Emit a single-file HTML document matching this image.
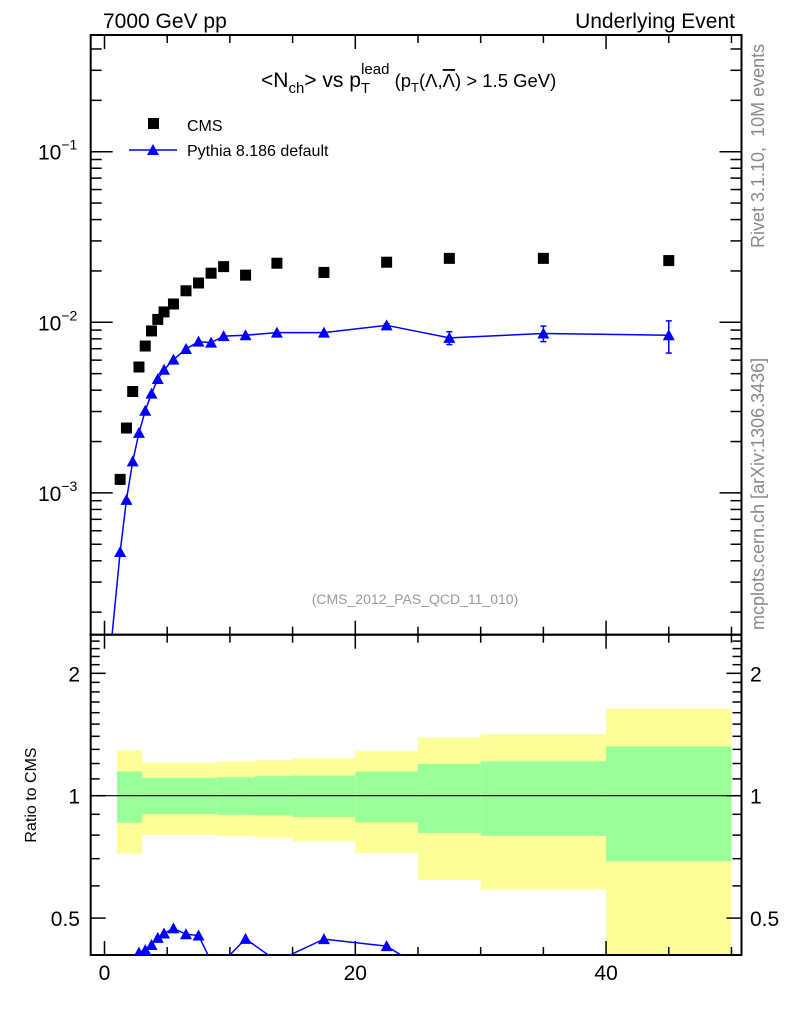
<!DOCTYPE html>
<html><head><meta charset="utf-8"><style>
body{margin:0;background:#fff;}
svg{display:block;font-family:"Liberation Sans",sans-serif;}
</style></head><body>
<svg id="c" width="786" height="1024" viewBox="0 0 786 1024" xmlns="http://www.w3.org/2000/svg"></svg>
<script>
const cmsX=[1.25,1.75,2.25,2.75,3.25,3.75,4.25,4.75,5.5,6.5,7.5,8.5,9.5,11.25,13.75,17.5,22.5,27.5,35,45];
const cmsY=[1.2e-3,2.4e-3,3.93e-3,5.47e-3,7.26e-3,8.9e-3,1.04e-2,1.15e-2,1.28e-2,1.53e-2,1.70e-2,1.94e-2,2.12e-2,1.89e-2,2.22e-2,1.96e-2,2.25e-2,2.37e-2,2.37e-2,2.3e-2];
const pyX=[0.25,1.25,1.75,2.25,2.75,3.25,3.75,4.25,4.75,5.5,6.5,7.5,8.5,9.5,11.25,13.75,17.5,22.5,27.5,35,45];
const pyY=[8e-5,4.5e-4,9.1e-4,1.53e-3,2.25e-3,3.03e-3,3.82e-3,4.65e-3,5.27e-3,6.04e-3,6.98e-3,7.7e-3,7.6e-3,8.3e-3,8.4e-3,8.7e-3,8.7e-3,9.6e-3,8.1e-3,8.6e-3,8.4e-3];
const pyErr=[0,0,0,0,0,0,0,0,0,0,0,0,0,0,0,0,0,0.2e-3,0.7e-3,0.9e-3,1.8e-3];
const bandEdges=[1,3,9,12,15,20,25,30,40,50];
const yelHi=[1.294,1.206,1.215,1.222,1.236,1.287,1.392,1.419,1.636];
const grnHi=[1.147,1.107,1.11,1.117,1.121,1.147,1.196,1.215,1.322];
const grnLo=[0.858,0.902,0.897,0.894,0.886,0.86,0.81,0.797,0.69];
const yelLo=[0.72,0.80,0.795,0.788,0.773,0.723,0.62,0.588,0.3];
const xTicks=[0,20,40];
const mainTickLabels=["-1","-2","-3"];
const ratioTickVals=[0.5,1,2];

const S=document.getElementById('c');const NS='http://www.w3.org/2000/svg';
function mk(t,a,p){const e=document.createElementNS(NS,t);for(const k in a)e.setAttribute(k,a[k]);(p||S).appendChild(e);return e;}
const L=90.7,R=741.5,T=35,MB=634.7,RB=955;
const X=v=>L+(v+1.1)*(R-L)/51.9;
const Y=v=>322.3-(Math.log10(v)+2)*170.6;
const YR=v=>795.7-Math.log10(v)*406.6;

const defs=mk('defs',{});
const c1=mk('clipPath',{id:'cm'},defs);mk('rect',{x:L,y:T,width:R-L,height:MB-T},c1);
const c2=mk('clipPath',{id:'cr'},defs);mk('rect',{x:L,y:MB,width:R-L,height:RB-MB},c2);

const gb=mk('g',{'clip-path':'url(#cr)'});


for(let i=0;i<yelHi.length;i++){
  const x0=X(bandEdges[i]),x1=X(bandEdges[i+1]);
  const r1=mk('rect',{x:x0,y:YR(yelHi[i]),width:x1-x0,height:YR(yelLo[i])-YR(yelHi[i]),fill:'#ffff99'},gb);
  
  
  const r2=mk('rect',{x:x0,y:YR(grnHi[i]),width:x1-x0,height:YR(grnLo[i])-YR(grnHi[i]),fill:'#99ff99'},gb);
  
  
}
mk('line',{x1:L,x2:R,y1:YR(1),y2:YR(1),stroke:'#000','stroke-width':1.2});

for(const [t,b] of [[T,MB],[MB,RB]]){
  const f=mk('rect',{x:L,y:t,width:R-L,height:b-t,fill:'none',stroke:'#000','stroke-width':2});
  
  
}
for(let v=0;v<=50;v+=5){
  const len=(v%20===0)?14:8;
  for(const yb of [MB,RB]){mk('line',{x1:X(v),x2:X(v),y1:yb,y2:yb-len,stroke:'#000','stroke-width':1.5});}
  for(const yt of [T,MB]){mk('line',{x1:X(v),x2:X(v),y1:yt,y2:yt+len,stroke:'#000','stroke-width':1.5});}
}
xTicks.forEach(v=>{const t=mk('text',{x:X(v),y:980,'font-size':21,'text-anchor':'middle'});t.textContent=v;
  });
for(let d=-4;d<=0;d++){for(let m=1;m<=9;m++){const v=m*Math.pow(10,d);const y=Y(v);if(y<T||y>MB)continue;
  const len=m===1?22:11;
  mk('line',{x1:L,x2:L+len,y1:y,y2:y,stroke:'#000','stroke-width':1.5});
  mk('line',{x1:R,x2:R-len,y1:y,y2:y,stroke:'#000','stroke-width':1.5});}}
mainTickLabels.forEach((e,i)=>{const y=Y(Math.pow(10,-(i+1)));
  const t=mk('text',{x:38,y:y+8,'font-size':21});t.innerHTML='10<tspan dy="-10" font-size="14">'+e.replace('-','−')+'</tspan>';
  });
for(let v=0.5;v<=2.45;v+=0.1){const y=YR(v);const maj=[0.5,1,2].some(q=>Math.abs(q-v)<1e-6);const len=maj?15:9;
  mk('line',{x1:L,x2:L+len,y1:y,y2:y,stroke:'#000','stroke-width':1.5});
  mk('line',{x1:R,x2:R-len,y1:y,y2:y,stroke:'#000','stroke-width':1.5});}
ratioTickVals.forEach(v=>{
  const t=mk('text',{x:80,y:YR(v)+8,'font-size':21,'text-anchor':'end'});t.textContent=v;
  
  const t2=mk('text',{x:750,y:YR(v)+8,'font-size':21});t2.textContent=v;
  });

const gm=mk('g',{'clip-path':'url(#cm)'});
const pl=mk('polyline',{points:pyX.map((x,i)=>X(x)+','+Y(pyY[i])).join(' '),fill:'none',stroke:'#0000ff','stroke-width':1.5},gm);

function tri(g,cx,cy){const p=mk('polygon',{points:`${cx-6},${cy+5} ${cx+6},${cy+5} ${cx},${cy-6}`,fill:'#0000ff'},g);return p;}
pyX.forEach((x,i)=>{const cx=X(x),cy=Y(pyY[i]);
  if(pyErr[i]>0){const y1=Y(pyY[i]+pyErr[i]),y2=Y(pyY[i]-pyErr[i]);
    mk('line',{x1:cx,x2:cx,y1:y1,y2:y2,stroke:'#0000ff','stroke-width':1.5},gm);
    mk('line',{x1:cx-3,x2:cx+3,y1:y1,y2:y1,stroke:'#0000ff','stroke-width':1.5},gm);
    mk('line',{x1:cx-3,x2:cx+3,y1:y2,y2:y2,stroke:'#0000ff','stroke-width':1.5},gm);}
  const p=tri(gm,cx,cy);});
cmsX.forEach((x,i)=>{const r=mk('rect',{x:X(x)-5.5,y:Y(cmsY[i])-5.5,width:11,height:11,fill:'#000'},gm);
  });

const gr=mk('g',{'clip-path':'url(#cr)'});
const rx=[],ry=[];
pyX.forEach((x,i)=>{const j=cmsX.indexOf(x);if(j>=0){rx.push(x);ry.push(pyY[i]/cmsY[j]);}});
const rl=mk('polyline',{points:rx.map((x,i)=>X(x)+','+YR(ry[i])).join(' '),fill:'none',stroke:'#0000ff','stroke-width':1.5},gr);

rx.forEach((x,i)=>{const p=tri(gr,X(x),YR(ry[i]));});

function txt(x,y,s,a,name){const t=mk('text',Object.assign({x:x,y:y},a));t.innerHTML=s;return t;}
txt(103,28,'7000 GeV pp',{'font-size':21},'energy-label');
txt(735,28,'Underlying Event',{'font-size':21,'text-anchor':'end'},'process-label');
txt(261,87,'&lt;N<tspan dy="6" font-size="15">ch</tspan><tspan dy="-6">&gt; vs p</tspan><tspan dy="6" font-size="15">T</tspan><tspan dx="-9" dy="-19" font-size="15">lead</tspan><tspan dy="13" font-size="18.5"> (p</tspan><tspan dy="5" font-size="13">T</tspan><tspan dy="-5" font-size="18.5">(Λ,</tspan><tspan font-size="18.5" text-decoration="overline">Λ</tspan><tspan font-size="18.5">) &gt; 1.5 GeV)</tspan>',{'font-size':21},'plot-title');
const lm=mk('rect',{x:148,y:118,width:11,height:11,fill:'#000'});
txt(187,131,'CMS',{'font-size':16},'legend-cms');
mk('line',{x1:129,x2:177,y1:150,y2:150,stroke:'#0000ff','stroke-width':1.5});
tri(S,153,150);
txt(187,156,'Pythia 8.186 default',{'font-size':16},'legend-pythia');
txt(415,604,'(CMS_2012_PAS_QCD_11_010)',{'font-size':14,fill:'#999','text-anchor':'middle'},'analysis-id');
txt(0,0,'Rivet 3.1.10,&#160; 10M events',{'font-size':18,fill:'#888','transform':'translate(764,248) rotate(-90)'},'rivet-label');
txt(0,0,'mcplots.cern.ch [arXiv:1306.3436]',{'font-size':18,fill:'#888','transform':'translate(764,630) rotate(-90)'},'mcplots-label');
txt(0,0,'Ratio to CMS',{'font-size':16,'text-anchor':'middle','transform':'translate(36,795) rotate(-90)'},'y-axis-title');
</script>
</body></html>
